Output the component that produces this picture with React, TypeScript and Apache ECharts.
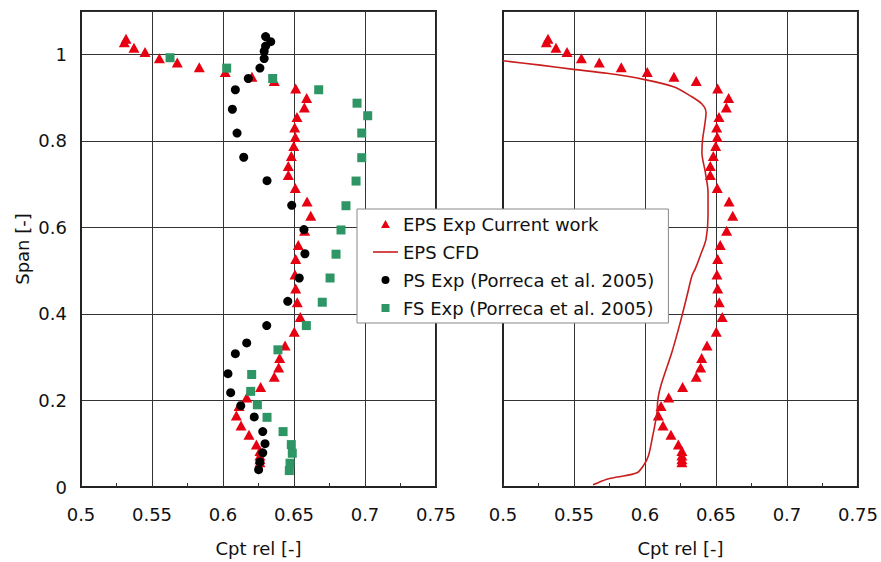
import React, { useEffect, useRef } from "react";
import * as echarts from "echarts";

// EPS Exp Current work [Cpt rel, Span]
const epsExp: [number, number][] = [
  [0.5317, 1.036], [0.5305, 1.028], [0.5373, 1.015], [0.5451, 1.005], [0.5552, 0.991],
  [0.5678, 0.981], [0.5833, 0.970], [0.6016, 0.959], [0.6204, 0.948], [0.6361, 0.938],
  [0.6512, 0.921], [0.6589, 0.899], [0.6573, 0.877], [0.6521, 0.855], [0.6505, 0.831],
  [0.6509, 0.809], [0.6498, 0.788], [0.6481, 0.765], [0.646, 0.742], [0.646, 0.721],
  [0.6509, 0.691], [0.6592, 0.660], [0.6618, 0.627], [0.6575, 0.592], [0.653, 0.559],
  [0.6512, 0.527], [0.6507, 0.491], [0.6512, 0.459], [0.6523, 0.427], [0.6544, 0.393],
  [0.6502, 0.359], [0.6437, 0.327], [0.6399, 0.298], [0.6392, 0.276], [0.6361, 0.255],
  [0.6265, 0.231], [0.6167, 0.207], [0.6113, 0.187], [0.6094, 0.165], [0.6127, 0.142],
  [0.6183, 0.121], [0.6235, 0.098], [0.626, 0.083], [0.626, 0.073], [0.626, 0.064],
  [0.626, 0.057],
];

// PS Exp (Porreca et al. 2005)
const psExp: [number, number][] = [
  [0.630, 1.041], [0.6336, 1.029], [0.630, 1.019], [0.629, 1.007], [0.629, 0.990],
  [0.626, 0.968], [0.6178, 0.944], [0.6087, 0.918], [0.6066, 0.873], [0.6099, 0.818],
  [0.6146, 0.762], [0.631, 0.708], [0.6484, 0.651], [0.657, 0.595], [0.6577, 0.539],
  [0.6537, 0.483], [0.6456, 0.429], [0.6308, 0.373], [0.6167, 0.333], [0.6087, 0.308],
  [0.6035, 0.262], [0.6054, 0.218], [0.6125, 0.188], [0.622, 0.162], [0.628, 0.128],
  [0.6296, 0.100], [0.628, 0.079], [0.626, 0.058], [0.6251, 0.040],
];

// FS Exp (Porreca et al. 2005)
const fsExp: [number, number][] = [
  [0.5627, 0.992], [0.6026, 0.968], [0.635, 0.944], [0.6674, 0.918], [0.6944, 0.887],
  [0.7019, 0.858], [0.6977, 0.818], [0.6977, 0.761], [0.6937, 0.707], [0.6866, 0.650],
  [0.6831, 0.594], [0.6796, 0.538], [0.6754, 0.483], [0.6699, 0.427], [0.6587, 0.373],
  [0.6387, 0.317], [0.6202, 0.260], [0.6195, 0.221], [0.6242, 0.190], [0.631, 0.161],
  [0.6423, 0.128], [0.6481, 0.098], [0.6488, 0.078], [0.6472, 0.055], [0.6467, 0.038],
];

// EPS CFD (ordered from tip to hub)
const epsCfd: [number, number][] = [
  [0.5, 0.985], [0.5263, 0.975], [0.5497, 0.965], [0.5732, 0.956], [0.599, 0.942],
  [0.6201, 0.925], [0.6319, 0.904], [0.6401, 0.885], [0.643, 0.865], [0.642, 0.835],
  [0.6406, 0.804], [0.6401, 0.773], [0.6425, 0.727], [0.6444, 0.681], [0.6444, 0.627],
  [0.643, 0.573], [0.639, 0.535], [0.6354, 0.504], [0.6331, 0.488], [0.6296, 0.442],
  [0.6249, 0.381], [0.619, 0.312], [0.6127, 0.250], [0.61, 0.219], [0.6089, 0.196],
  [0.6085, 0.173], [0.6065, 0.135], [0.6055, 0.119], [0.6025, 0.073], [0.599, 0.05],
  [0.5944, 0.033], [0.5803, 0.023], [0.5732, 0.018], [0.5634, 0.005],
];

const xTicks = { min: 0.5, max: 0.75, interval: 0.05 };
const yTicks = { min: 0, max: 1.1, interval: 0.2 };

const FONT = "DejaVu Sans";
const RED = "#e60012";
const LINE_RED = "#c81e1e";
const GREEN = "#2e9565";

const ICON_TRIANGLE = "path://M5,0 L10,9 L0,9 Z";
const ICON_CIRCLE = "path://M0,5 A5,5 0 1,0 10,5 A5,5 0 1,0 0,5 Z";
const ICON_SQUARE = "path://M0,0 L10,0 L10,10 L0,10 Z";
const ICON_LINE = "path://M0,0 L25,0 L25,1.6 L0,1.6 Z";

export default function App() {
  const ref = useRef<HTMLDivElement>(null);
  useEffect(() => {
    const chart = echarts.init(ref.current!, null, { renderer: "svg" });
    const xAxisBase = (gridIndex: number) => ({
      type: "value",
      gridIndex,
      min: xTicks.min,
      max: xTicks.max,
      interval: xTicks.interval,
      name: "Cpt rel [-]",
      nameLocation: "middle",
      nameGap: 52,
      nameTextStyle: { fontFamily: FONT, fontSize: 18, color: "#111" },
      axisLine: { show: true, lineStyle: { color: "#222", width: 2 } },
      axisTick: { show: true, inside: true, length: 4, lineStyle: { color: "#333" } },
      minorTick: { show: true, splitNumber: 2, length: 4, lineStyle: { color: "#333" } },
      axisLabel: { fontFamily: FONT, fontSize: 18, color: "#111", margin: 18 },
      splitLine: { show: true, lineStyle: { color: "#333", width: 1 } },
    });
    const yAxisBase = (gridIndex: number, showLabels: boolean) => ({
      type: "value",
      gridIndex,
      min: yTicks.min,
      max: yTicks.max,
      interval: yTicks.interval,
      name: showLabels ? "Span [-]" : "",
      nameLocation: "middle",
      nameGap: 50,
      nameTextStyle: { fontFamily: FONT, fontSize: 18, color: "#111" },
      axisLine: { show: true, lineStyle: { color: "#222", width: 2 } },
      axisTick: { show: false },
      axisLabel: {
        show: showLabels,
        fontFamily: FONT,
        fontSize: 18,
        color: "#111",
        margin: 14,
        formatter: (v: number) => (v > 1.05 ? "" : String(Math.round(v * 10) / 10)),
      },
      splitLine: { show: true, lineStyle: { color: "#333", width: 1 } },
    });
    chart.setOption({
      animation: false,
      backgroundColor: "#fff",
      grid: [
        { left: 81, top: 11, width: 355, height: 477, show: true, borderColor: "#222", borderWidth: 2, backgroundColor: "transparent" },
        { left: 503, top: 11, width: 355, height: 477, show: true, borderColor: "#222", borderWidth: 2, backgroundColor: "transparent" },
      ],
      xAxis: [xAxisBase(0), xAxisBase(1)],
      yAxis: [yAxisBase(0, true), yAxisBase(1, false)],
      legend: {
        orient: "vertical",
        left: 357,
        top: 209,
        padding: [6, 14, 6, 16],
        itemGap: 10,
        itemWidth: 25,
        itemHeight: 8,
        symbolKeepAspect: true,
        backgroundColor: "#fff",
        borderColor: "#888",
        borderWidth: 1,
        textStyle: { fontFamily: FONT, fontSize: 18, color: "#111" },
        data: [
          { name: "EPS Exp Current work", icon: ICON_TRIANGLE },
          { name: "EPS CFD", icon: ICON_LINE },
          { name: "PS Exp (Porreca et al. 2005)", icon: ICON_CIRCLE },
          { name: "FS Exp (Porreca et al. 2005)", icon: ICON_SQUARE },
        ],
      },
      series: [
        {
          name: "EPS Exp Current work",
          type: "scatter",
          xAxisIndex: 0,
          yAxisIndex: 0,
          symbol: "triangle",
          symbolSize: [11, 10],
          itemStyle: { color: RED, opacity: 1 },
          data: epsExp,
        },
        {
          name: "PS Exp (Porreca et al. 2005)",
          type: "scatter",
          xAxisIndex: 0,
          yAxisIndex: 0,
          symbol: "circle",
          symbolSize: 9,
          itemStyle: { color: "#000", opacity: 1 },
          data: psExp,
        },
        {
          name: "FS Exp (Porreca et al. 2005)",
          type: "scatter",
          xAxisIndex: 0,
          yAxisIndex: 0,
          symbol: "rect",
          symbolSize: 9,
          itemStyle: { color: GREEN, opacity: 1 },
          data: fsExp,
        },
        {
          name: "EPS Exp Current work",
          type: "scatter",
          xAxisIndex: 1,
          yAxisIndex: 1,
          symbol: "triangle",
          symbolSize: [11, 10],
          itemStyle: { color: RED, opacity: 1 },
          data: epsExp,
        },
        {
          name: "EPS CFD",
          type: "line",
          xAxisIndex: 1,
          yAxisIndex: 1,
          showSymbol: false,
          symbol: "none",
          smooth: 0.3,
          lineStyle: { color: LINE_RED, width: 1.6 },
          itemStyle: { color: LINE_RED },
          data: epsCfd,
        },
      ],
    });
    return () => chart.dispose();
  }, []);
  return (
    <div
      ref={ref}
      style={{ position: "fixed", left: 0, top: 0, width: 881, height: 562 }}
    />
  );
}
